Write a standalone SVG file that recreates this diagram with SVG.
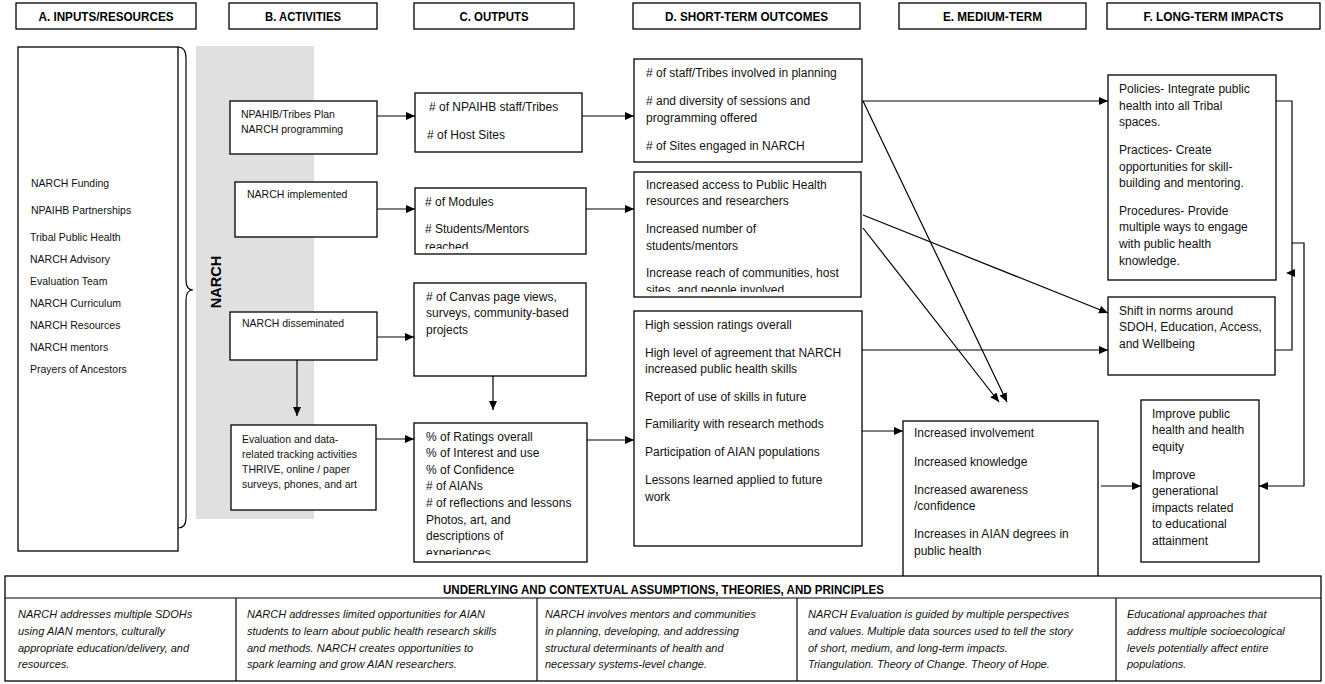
<svg xmlns="http://www.w3.org/2000/svg" width="1325" height="684" viewBox="0 0 1325 684">
<style>
.box{fill:#fff;stroke:#000;stroke-width:1.3}
.hdr{font-family:"Liberation Sans",Arial,sans-serif;font-weight:bold;font-size:12.5px;fill:#000;text-anchor:middle}
.t{font-family:"Liberation Sans",Arial,sans-serif;font-size:12px;fill:#111}
.s{font-family:"Liberation Sans",Arial,sans-serif;font-size:10.5px;fill:#111}
.s11{font-family:"Liberation Sans",Arial,sans-serif;font-size:11px;fill:#111}
.it{font-family:"Liberation Sans",Arial,sans-serif;font-size:11px;font-style:italic;fill:#111}
.ln{fill:none;stroke:#000;stroke-width:1.2}
.arr{marker-end:url(#ah)}
</style>
<defs>
<marker id="ah" markerUnits="userSpaceOnUse" markerWidth="9" markerHeight="8" refX="9" refY="4" orient="auto">
<path d="M0,0 L9,4 L0,8 z" fill="#000"/>
</marker>
<clipPath id="cpC2"><rect x="415" y="188" width="171" height="61"/></clipPath>
<clipPath id="cpD2"><rect x="634" y="172" width="227" height="120"/></clipPath>
<clipPath id="cpC4"><rect x="414" y="423" width="173" height="132"/></clipPath>
</defs>
<rect width="1325" height="684" fill="#fff"/>

<g id="headers">
<rect class="box" x="16" y="3" width="180" height="26"/>
<text class="hdr" x="106" y="21" textLength="135" lengthAdjust="spacingAndGlyphs">A. INPUTS/RESOURCES</text>
<rect class="box" x="229" y="3" width="148" height="26"/>
<text class="hdr" x="303" y="21" textLength="76" lengthAdjust="spacingAndGlyphs">B. ACTIVITIES</text>
<rect class="box" x="414" y="3" width="160" height="26"/>
<text class="hdr" x="494" y="21" textLength="69" lengthAdjust="spacingAndGlyphs">C. OUTPUTS</text>
<rect class="box" x="633" y="3" width="227" height="26"/>
<text class="hdr" x="746.5" y="21" textLength="163" lengthAdjust="spacingAndGlyphs">D. SHORT-TERM OUTCOMES</text>
<rect class="box" x="899" y="3" width="187" height="26"/>
<text class="hdr" x="992.5" y="21" textLength="99" lengthAdjust="spacingAndGlyphs">E. MEDIUM-TERM</text>
<rect class="box" x="1107" y="3" width="213" height="26"/>
<text class="hdr" x="1213.5" y="21" textLength="140" lengthAdjust="spacingAndGlyphs">F. LONG-TERM IMPACTS</text>
</g>

<g id="narch-band">
<rect x="196" y="46" width="118" height="473" fill="#e0e0e0"/>
<text x="0" y="0" transform="translate(221,282) rotate(-90)" font-family="Liberation Sans,Arial,sans-serif" font-weight="bold" font-size="14.5" text-anchor="middle">NARCH</text>
</g>

<g id="inputs">
<rect class="box" x="18" y="47" width="160" height="504"/>
<path class="ln" d="M178,47 Q186,47 186,58 L186,280 Q186,290 193,290 Q186,290 186,300 L186,518 Q186,528 178,528"/>
<text class="s" x="31" y="186.5">NARCH Funding</text>
<text class="s" x="31" y="213.5">NPAIHB Partnerships</text>
<text class="s" x="30" y="240.5">Tribal Public Health</text>
<text class="s" x="30" y="262.5">NARCH Advisory</text>
<text class="s" x="30" y="284.5">Evaluation Team</text>
<text class="s" x="30" y="306.5">NARCH Curriculum</text>
<text class="s" x="30" y="328.5">NARCH Resources</text>
<text class="s" x="30" y="350.5">NARCH mentors</text>
<text class="s" x="30" y="372.5">Prayers of Ancestors</text>
</g>

<g id="B1"><rect class="box" x="230" y="101" width="147" height="53"/>
<text class="s" x="241" y="118">NPAHIB/Tribes Plan</text>
<text class="s" x="241" y="133">NARCH programming</text></g>
<g id="B2"><rect class="box" x="235" y="182" width="142" height="55"/>
<text class="s" x="247" y="198">NARCH implemented</text></g>
<g id="B3"><rect class="box" x="230" y="312" width="147" height="48"/>
<text class="s" x="242" y="327">NARCH disseminated</text></g>
<g id="B4"><rect class="box" x="231" y="425" width="145" height="85"/>
<text class="s" x="242" y="443">Evaluation and data-</text>
<text class="s" x="242" y="458">related tracking activities</text>
<text class="s" x="242" y="473">THRIVE, online / paper</text>
<text class="s" x="242" y="488">surveys, phones, and art</text></g>

<g id="C1"><rect class="box" x="415" y="93" width="167" height="59"/>
<text class="t" x="429" y="111"> # of NPAIHB staff/Tribes</text>
<text class="t" x="427" y="139"># of Host Sites</text></g>
<g id="C2"><rect class="box" x="415" y="188" width="171" height="66"/>
<g clip-path="url(#cpC2)">
<text class="t" x="425" y="206"># of Modules</text>
<text class="t" x="425" y="233"># Students/Mentors</text>
<text class="t" x="425" y="251">reached</text></g></g>
<g id="C3"><rect class="box" x="414" y="283" width="172" height="93"/>
<text class="t" x="426" y="301"># of Canvas page views,</text>
<text class="t" x="426" y="317">surveys, community-based</text>
<text class="t" x="426" y="334">projects</text></g>
<g id="C4"><rect class="box" x="414" y="423" width="173" height="139"/>
<g clip-path="url(#cpC4)">
<text class="t" x="426" y="441">% of Ratings overall</text>
<text class="t" x="426" y="457">% of Interest and use</text>
<text class="t" x="426" y="474">% of Confidence</text>
<text class="t" x="426" y="490"># of AIANs</text>
<text class="t" x="426" y="507"># of reflections and lessons</text>
<text class="t" x="426" y="524">Photos, art, and</text>
<text class="t" x="426" y="540">descriptions of</text>
<text class="t" x="426" y="557">experiences.</text></g></g>

<g id="D1"><rect class="box" x="634" y="59" width="228" height="103"/>
<text class="t" x="646" y="77"># of staff/Tribes involved in planning</text>
<text class="t" x="646" y="105"># and diversity of sessions and</text>
<text class="t" x="646" y="122">programming offered</text>
<text class="t" x="646" y="150"># of Sites engaged in NARCH</text></g>
<g id="D2"><rect class="box" x="634" y="172" width="227" height="125"/>
<g clip-path="url(#cpD2)">
<text class="t" x="646" y="189">Increased access to Public Health</text>
<text class="t" x="646" y="205">resources and researchers</text>
<text class="t" x="646" y="233">Increased number of</text>
<text class="t" x="646" y="250">students/mentors</text>
<text class="t" x="646" y="277">Increase reach of communities, host</text>
<text class="t" x="646" y="294">sites, and people involved</text></g></g>
<g id="D3"><rect class="box" x="634" y="311" width="228" height="235"/>
<text class="t" x="645" y="329">High session ratings overall</text>
<text class="t" x="645" y="357">High level of agreement that NARCH</text>
<text class="t" x="645" y="373">increased public health skills</text>
<text class="t" x="645" y="401">Report of use of skills in future</text>
<text class="t" x="645" y="428">Familiarity with research methods</text>
<text class="t" x="645" y="456">Participation of AIAN populations</text>
<text class="t" x="645" y="484">Lessons learned applied to future</text>
<text class="t" x="645" y="501">work</text></g>

<g id="E1"><rect class="box" x="903" y="421" width="195" height="156"/>
<text class="t" x="914" y="437">Increased involvement</text>
<text class="t" x="914" y="466">Increased knowledge</text>
<text class="t" x="914" y="494">Increased awareness</text>
<text class="t" x="914" y="510">/confidence</text>
<text class="t" x="914" y="538">Increases in AIAN degrees in</text>
<text class="t" x="914" y="555">public health</text></g>

<g id="F1"><rect class="box" x="1108" y="75" width="168" height="205"/>
<text class="t" x="1119" y="93">Policies- Integrate public</text>
<text class="t" x="1119" y="110">health into all Tribal</text>
<text class="t" x="1119" y="126">spaces.</text>
<text class="t" x="1119" y="154">Practices- Create</text>
<text class="t" x="1119" y="171">opportunities for skill-</text>
<text class="t" x="1119" y="187">building and mentoring.</text>
<text class="t" x="1119" y="215">Procedures- Provide</text>
<text class="t" x="1119" y="231">multiple ways to engage</text>
<text class="t" x="1119" y="248">with public health</text>
<text class="t" x="1119" y="265">knowledge.</text></g>
<g id="F2"><rect class="box" x="1108" y="297" width="167" height="78"/>
<text class="t" x="1119" y="315">Shift in norms around</text>
<text class="t" x="1119" y="331">SDOH, Education, Access,</text>
<text class="t" x="1119" y="348">and Wellbeing</text></g>
<g id="F3"><rect class="box" x="1141" y="400" width="118" height="162"/>
<text class="t" x="1152" y="418">Improve public</text>
<text class="t" x="1152" y="434">health and health</text>
<text class="t" x="1152" y="451">equity</text>
<text class="t" x="1152" y="479">Improve</text>
<text class="t" x="1152" y="495">generational</text>
<text class="t" x="1152" y="512">impacts related</text>
<text class="t" x="1152" y="528">to educational</text>
<text class="t" x="1152" y="545">attainment</text></g>

<g id="connectors">
<path class="ln arr" d="M377,116 H415"/>
<path class="ln arr" d="M377,209 H415"/>
<path class="ln arr" d="M377,337 H414"/>
<path class="ln arr" d="M376,439 H414"/>
<path class="ln arr" d="M297,360 V416"/>
<path class="ln arr" d="M493,376 V410"/>
<path class="ln arr" d="M582,116 H634"/>
<path class="ln arr" d="M586,209 H634"/>
<path class="ln arr" d="M587,440 H634"/>
<path class="ln arr" d="M862,431 H903"/>
<path class="ln arr" d="M862,350 H1108"/>
<path class="ln arr" d="M862,101 H1108"/>
<path class="ln arr" d="M863,101 L1007,402"/>
<path class="ln arr" d="M863,215 L1108,313"/>
<path class="ln arr" d="M863,228 L999,402"/>
<path class="ln arr" d="M1101,486 H1141"/>
<path class="ln" d="M1276,101 H1292 V350 H1275"/>
<path class="ln arr" d="M1292,243 H1304 V486 H1259"/>
<polygon points="1286,273 1295,269 1295,277" fill="#000"/>
</g>

<g id="principles">
<rect class="box" x="5" y="576" width="1316" height="105"/>
<line class="ln" x1="5" y1="598" x2="1321" y2="598"/>
<line class="ln" x1="236" y1="598" x2="236" y2="681"/>
<line class="ln" x1="537" y1="598" x2="537" y2="681"/>
<line class="ln" x1="797" y1="598" x2="797" y2="681"/>
<line class="ln" x1="1116" y1="598" x2="1116" y2="681"/>
<text class="hdr" x="663.5" y="594" font-size="12" textLength="441" lengthAdjust="spacingAndGlyphs">UNDERLYING AND CONTEXTUAL ASSUMPTIONS, THEORIES, AND PRINCIPLES</text>
<text class="it" x="18" y="618">NARCH addresses multiple SDOHs</text>
<text class="it" x="18" y="635">using AIAN mentors, culturally</text>
<text class="it" x="18" y="652">appropriate education/delivery, and</text>
<text class="it" x="18" y="668">resources.</text>
<text class="it" x="247" y="618">NARCH addresses limited opportunities for AIAN</text>
<text class="it" x="247" y="635">students to learn about public health research skills</text>
<text class="it" x="247" y="652">and methods. NARCH creates opportunities to</text>
<text class="it" x="247" y="668">spark learning and grow AIAN researchers.</text>
<text class="it" x="545" y="618">NARCH involves mentors and communities</text>
<text class="it" x="545" y="635">in planning, developing, and addressing</text>
<text class="it" x="545" y="652">structural determinants of health and</text>
<text class="it" x="545" y="668">necessary systems-level change.</text>
<text class="it" x="808" y="618">NARCH Evaluation is guided by multiple perspectives</text>
<text class="it" x="808" y="635">and values. Multiple data sources used to tell the story</text>
<text class="it" x="808" y="652">of short, medium, and long-term impacts.</text>
<text class="it" x="808" y="668">Triangulation. Theory of Change. Theory of Hope.</text>
<text class="it" x="1127" y="618">Educational approaches that</text>
<text class="it" x="1127" y="635">address multiple socioecological</text>
<text class="it" x="1127" y="652">levels potentially affect entire</text>
<text class="it" x="1127" y="668">populations.</text>
</g>
</svg>
